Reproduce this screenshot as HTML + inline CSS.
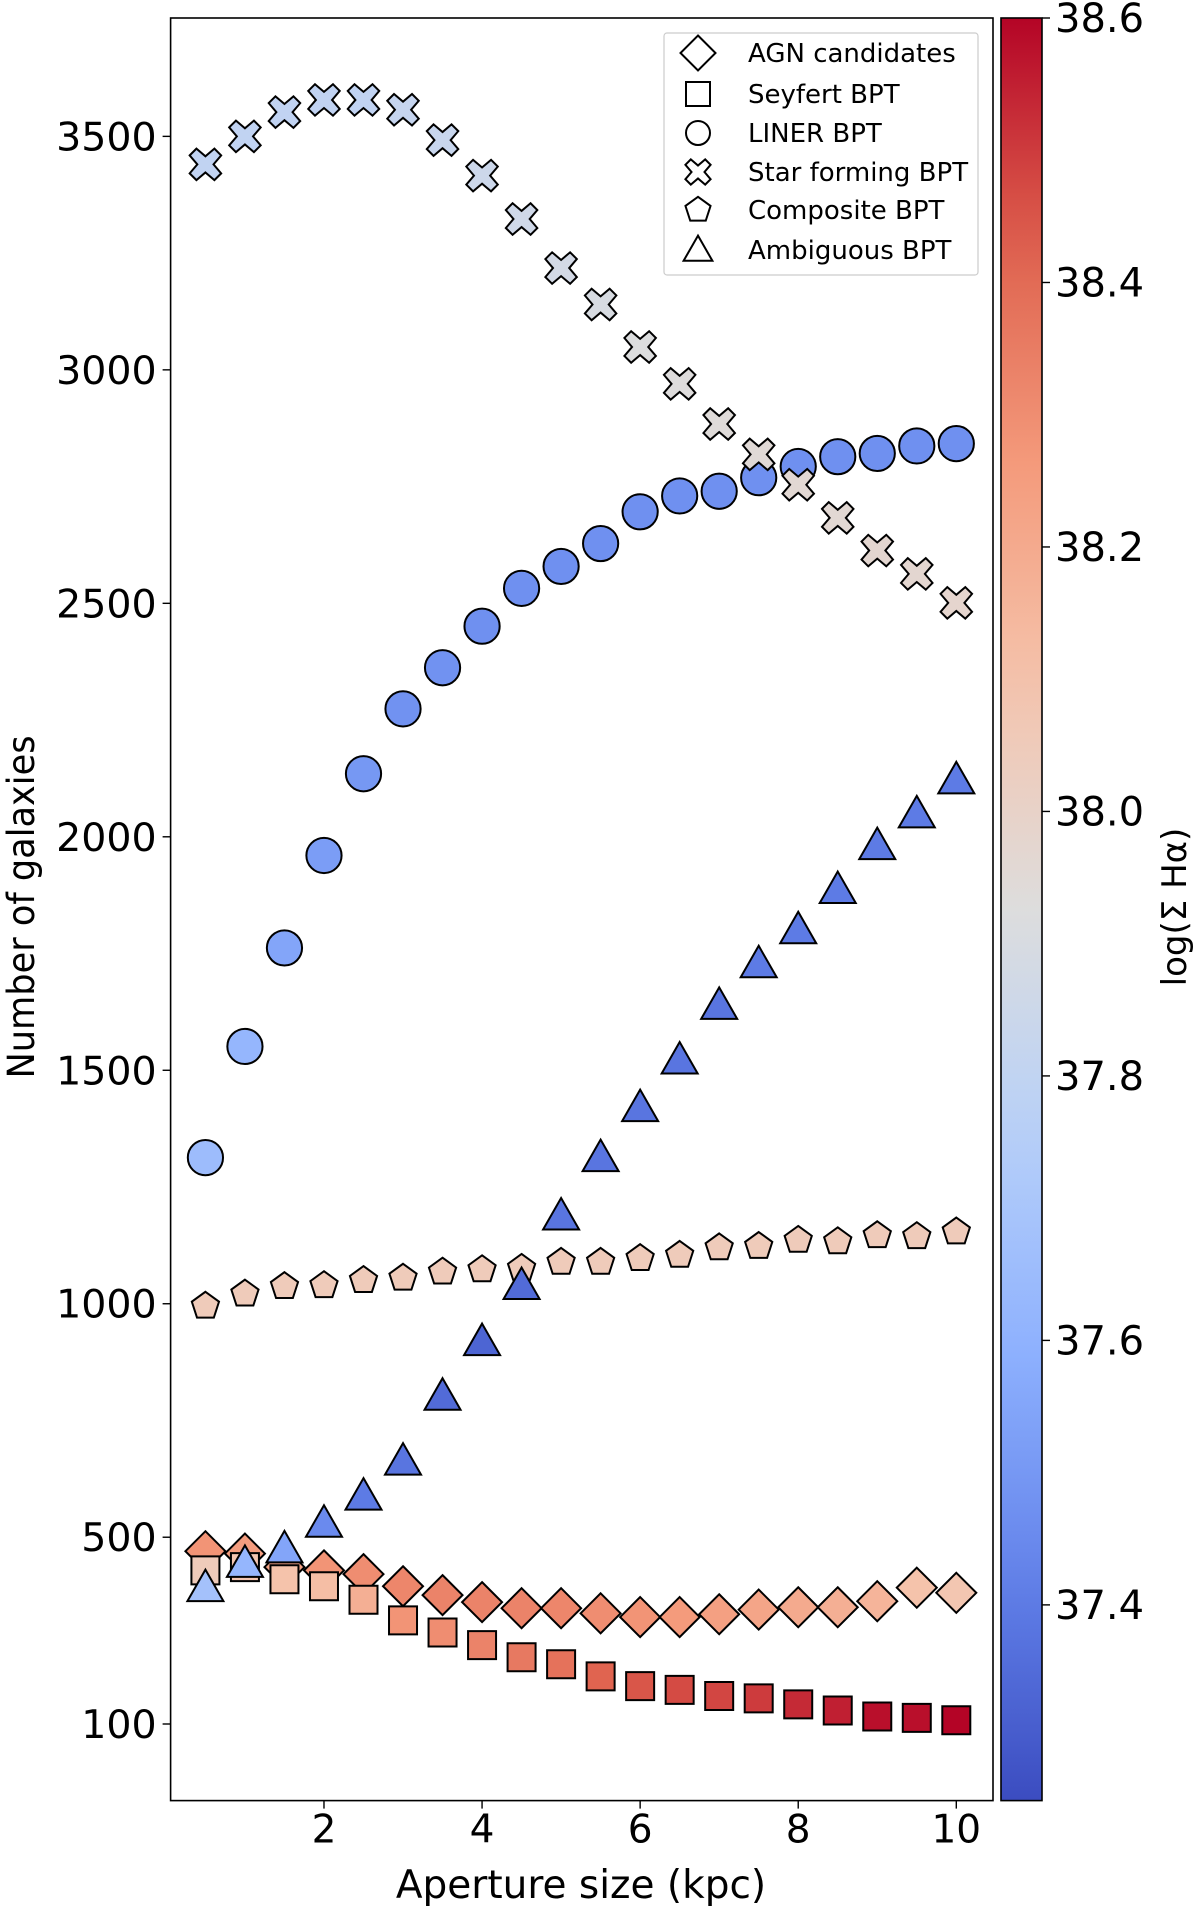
<!DOCTYPE html>
<html><head><meta charset="utf-8"><style>
html,body{margin:0;padding:0;background:#fff;}
svg{display:block;font-family:"DejaVu Sans","Liberation Sans",sans-serif;}
</style></head><body>
<svg id="chart" width="1200" height="1908" viewBox="0 0 1200 1908" xmlns="http://www.w3.org/2000/svg">
<defs><linearGradient id="cbgrad" x1="0" y1="1" x2="0" y2="0"></linearGradient></defs>
<g id="plot"></g>
</svg>
<script>
const apertures=[0.5,1,1.5,2,2.5,3,3.5,4,4.5,5,5.5,6,6.5,7,7.5,8,8.5,9,9.5,10];
const agnValues=[470,465,436,429,421,395,376,361,348,348,337,329,329,335,345,350,350,363,392,381];
const agnColor=[38.28,38.25,38.22,38.28,38.30,38.32,38.33,38.33,38.33,38.32,38.30,38.28,38.26,38.24,38.22,38.20,38.18,38.16,38.10,38.08];
const seyfertValues=[429,436,410,395,366,322,296,269,243,228,202,181,173,160,155,142,129,116,113,108];
const seyfertColor=[38.05,38.08,38.10,38.12,38.18,38.28,38.30,38.33,38.36,38.38,38.42,38.45,38.47,38.48,38.50,38.53,38.55,38.58,38.58,38.60];
const linerValues=[1313,1551,1762,1960,2135,2274,2362,2451,2532,2579,2628,2696,2730,2740,2769,2793,2814,2821,2837,2842];
const linerColor=[37.65,37.62,37.55,37.52,37.50,37.48,37.48,37.47,37.47,37.47,37.47,37.47,37.47,37.47,37.47,37.47,37.47,37.47,37.47,37.47];
const sfValues=[3440,3500,3552,3578,3578,3557,3492,3416,3323,3218,3140,3049,2970,2884,2819,2754,2683,2613,2563,2501];
const sfColor=[37.80,37.80,37.80,37.80,37.80,37.82,37.83,37.85,37.86,37.88,37.90,37.92,37.93,37.94,37.95,37.96,37.96,37.97,37.97,37.98];
const compValues=[995,1021,1037,1039,1050,1055,1068,1073,1076,1089,1089,1097,1104,1120,1123,1136,1133,1146,1144,1154];
const compColor=[38.05,38.05,38.05,38.05,38.05,38.05,38.05,38.05,38.05,38.05,38.05,38.05,38.05,38.05,38.05,38.05,38.05,38.05,38.05,38.05];
const ambValues=[392,444,475,530,588,663,802,919,1039,1188,1313,1420,1522,1639,1728,1801,1887,1981,2049,2122];
const ambColor=[37.68,37.62,37.55,37.45,37.40,37.38,37.35,37.33,37.35,37.38,37.38,37.38,37.38,37.38,37.40,37.40,37.40,37.40,37.40,37.40];
const xTicks=[2,4,6,8,10];
const yTicks=[100,500,1000,1500,2000,2500,3000,3500];
const cbTicks=[37.4,37.6,37.8,38.0,38.2,38.4,38.6];
const legendLabels=["AGN candidates","Seyfert BPT","LINER BPT","Star forming BPT","Composite BPT","Ambiguous BPT"];

const NS="http://www.w3.org/2000/svg";
const L=170.6,R=993,T=18,B=1800.6;
const sx=v=>165.9+v*79.04;
const sy=v=>1724-(v-100)*0.46695;
const CBL=1001,CBR=1042,cbMin=37.252,cbMax=38.6;
const cy=v=>B-(v-cbMin)/(cbMax-cbMin)*(B-T);
const stops=[[0,[59,76,192]],[0.125,[98,130,234]],[0.25,[141,176,254]],[0.375,[184,208,249]],[0.5,[221,221,221]],[0.625,[245,196,173]],[0.75,[244,154,123]],[0.875,[222,96,77]],[1,[180,4,38]]];
function cmap(v){let t=Math.max(0,Math.min(1,(v-cbMin)/(cbMax-cbMin)));
 for(let i=1;i<stops.length;i++){if(t<=stops[i][0]){const a=stops[i-1],b=stops[i];const f=(t-a[0])/(b[0]-a[0]);
 return 'rgb('+a[1].map((c,k)=>Math.round(c+(b[1][k]-c)*f)).join(',')+')';}}return 'rgb(180,4,38)';}
const g=document.getElementById('plot');
function el(tag,attrs,parent){const e=document.createElementNS(NS,tag);for(const k in attrs)e.setAttribute(k,attrs[k]);(parent||g).appendChild(e);return e;}
function markerPath(type,x,y,s){
 if(type==='diamond')return `M${x} ${y-s*1.25}L${x+s*1.25} ${y}L${x} ${y+s*1.25}L${x-s*1.25} ${y}Z`;
 if(type==='square')return `M${x-s} ${y-s}h${2*s}v${2*s}h${-2*s}Z`;
 if(type==='pent'){let p='';for(let i=0;i<5;i++){const a=-Math.PI/2+i*2*Math.PI/5;p+=(i?'L':'M')+(x+s*1.1*Math.cos(a))+' '+(y+s*1.1*Math.sin(a));}return p+'Z';}
 if(type==='tri')return `M${x} ${y-s*1.2}L${x+s*1.2} ${y+s*0.9}L${x-s*1.2} ${y+s*0.9}Z`;
 if(type==='x'){const a=s*0.45,b=s*1.05;return `M${x-b} ${y-b+a}L${x-b+a} ${y-b}L${x} ${y-a*1.2}L${x+b-a} ${y-b}L${x+b} ${y-b+a}L${x+a*1.2} ${y}L${x+b} ${y+b-a}L${x+b-a} ${y+b}L${x} ${y+a*1.2}L${x-b+a} ${y+b}L${x-b} ${y+b-a}L${x-a*1.2} ${y}Z`;}
}
function drawSeries(type,vals,cols,name,s){
 vals.forEach((v,i)=>{const x=sx(apertures[i]),y=sy(v);let m;
  if(type==='circle')m=el('circle',{cx:x,cy:y,r:s*1.1,fill:cmap(cols[i]),stroke:'#000','stroke-width':2});
  else m=el('path',{d:markerPath(type,x,y,s),fill:cmap(cols[i]),stroke:'#000','stroke-width':2,'stroke-linejoin':'miter'});
  
  });
}
drawSeries('diamond',agnValues,agnColor,'agn',16);
drawSeries('square',seyfertValues,seyfertColor,'seyfert',14);
drawSeries('circle',linerValues,linerColor,'liner',16);
drawSeries('x',sfValues,sfColor,'star-forming',15);
drawSeries('pent',compValues,compColor,'composite',13);
drawSeries('tri',ambValues,ambColor,'ambiguous',15);
const fr=el('rect',{x:L,y:T,width:R-L,height:B-T,fill:'none',stroke:'#000','stroke-width':1.6});

xTicks.forEach(t=>{const x=sx(t);el('line',{x1:x,x2:x,y1:B,y2:B+8,stroke:'#000','stroke-width':1.4});
 const tx=el('text',{x:x,y:B+42,'font-size':39,'text-anchor':'middle'});tx.textContent=t;
 });
yTicks.forEach(t=>{const y=sy(t);el('line',{x1:L-8,x2:L,y1:y,y2:y,stroke:'#000','stroke-width':1.4});
 const tx=el('text',{x:L-14,y:y+14,'font-size':39.5,'text-anchor':'end'});tx.textContent=t;
 });
const xl=el('text',{x:581,y:1898,'font-size':39,'text-anchor':'middle'});xl.textContent='Aperture size (kpc)';

const yl=el('text',{x:0,y:0,'font-size':37,'text-anchor':'middle',transform:'translate(34,907) rotate(-90) scale(0.95,1)'});yl.textContent='Number of galaxies';

const grad=document.getElementById('cbgrad');
for(let i=0;i<=20;i++){const v=cbMin+(cbMax-cbMin)*i/20;const st=document.createElementNS(NS,'stop');st.setAttribute('offset',(i/20));st.setAttribute('stop-color',cmap(v));grad.appendChild(st);}
const cb=el('rect',{x:CBL,y:T,width:CBR-CBL,height:B-T,fill:'url(#cbgrad)',stroke:'#000','stroke-width':1.6});

cbTicks.forEach(t=>{const y=cy(t);el('line',{x1:CBR,x2:CBR+8,y1:y,y2:y,stroke:'#000','stroke-width':1.4});
 const tx=el('text',{x:CBR+13,y:y+14,'font-size':40});tx.textContent=t.toFixed(1);
 });
const cl=el('text',{x:0,y:0,'font-size':34,'text-anchor':'middle',transform:'translate(1186,907) rotate(-90)'});cl.textContent='log(Σ Hα)';

const lg=el('g',{});
el('rect',{x:664,y:33,width:314,height:242,rx:3,fill:'#fff','fill-opacity':0.85,stroke:'#ccc','stroke-width':1.2},lg);
const ltypes=['diamond','square','circle','x','pent','tri'];
const ly=[53,94,133,172,210,250];
legendLabels.forEach((lab,i)=>{
 if(ltypes[i]==='circle')el('circle',{cx:698,cy:ly[i],r:12,fill:'none',stroke:'#000','stroke-width':2},lg);
 else el('path',{d:markerPath(ltypes[i],698,ly[i],ltypes[i]==='diamond'?14:12),fill:'none',stroke:'#000','stroke-width':2},lg);
 const tx=el('text',{x:748,y:ly[i]+9,'font-size':26},lg);tx.textContent=lab;
 });
</script>
</body></html>
